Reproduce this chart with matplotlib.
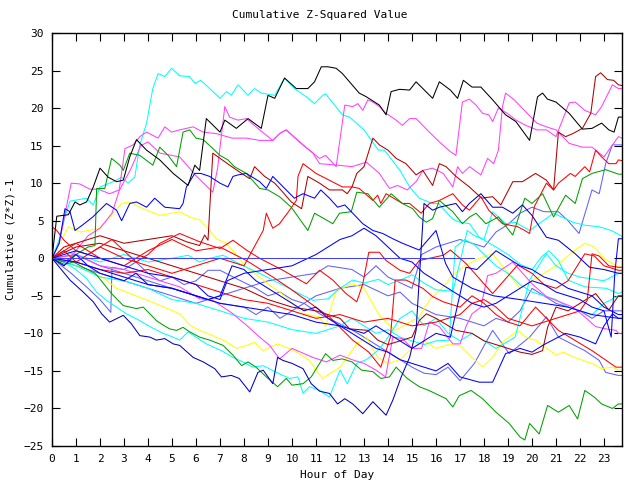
import matplotlib
matplotlib.use("Agg")
import matplotlib.pyplot as plt

# ---- data: (hour, value) key points ----
black_h = [0, 0.2, 0.68, 0.96, 1.16, 1.44, 1.72, 2.0, 2.34, 2.69, 2.97, 3.24, 3.52, 3.94, 4.49, 5.05, 5.67, 5.95, 6.15, 6.43, 7.0, 7.2, 7.68, 8.17, 8.72, 9.0, 9.28, 9.69, 10.18, 10.66, 10.94, 11.22, 11.5, 11.84, 12.1, 12.8, 13.1, 13.64, 13.92, 14.13, 14.48, 14.9, 15.17, 15.86, 16.14, 16.6, 16.9, 17.14, 17.5, 17.87, 18.36, 18.9, 19.33, 19.9, 20.23, 20.44, 20.64, 21.0, 21.55, 22.1, 22.5, 22.9, 23.2, 23.42, 23.6, 23.75]
black_v = [0, 5.6, 5.8, 7.5, 7.1, 7.5, 9.5, 12.0, 10.8, 10.2, 10.4, 13.5, 15.8, 14.4, 13.1, 11.3, 9.7, 12.4, 11.7, 18.6, 16.8, 18.4, 17.3, 18.6, 17.3, 21.7, 21.3, 24.0, 22.6, 22.6, 23.5, 25.5, 25.5, 25.3, 24.6, 22.0, 21.5, 20.4, 19.1, 22.2, 22.5, 22.4, 23.5, 21.3, 23.5, 22.4, 21.3, 23.7, 22.8, 22.8, 21.1, 19.1, 18.2, 15.7, 21.5, 22.0, 21.2, 20.8, 19.3, 17.2, 17.3, 18.0, 17.1, 16.8, 18.8, 18.8]

cyan_top_h = [0, 0.3, 0.54, 0.75, 1.44, 1.72, 2.0, 2.55, 2.9, 3.17, 3.45, 3.66, 3.94, 4.2, 4.42, 4.7, 4.98, 5.32, 5.74, 5.95, 6.2, 6.57, 7.0, 7.27, 7.47, 7.75, 8.17, 8.44, 8.72, 9.28, 9.69, 10.1, 10.6, 10.94, 11.28, 11.4, 12.1, 12.4, 13.0, 13.4, 13.6, 13.85, 14.5, 14.9, 15.3, 15.86, 16.1, 16.7, 17.0, 17.4, 17.8, 18.5, 19.0, 19.5, 20.0, 20.4, 20.7, 21.1, 21.5, 22.2, 23.1, 23.6, 23.75]
cyan_top_v = [0, 2.5, 5.5, 7.6, 8.0, 7.1, 9.5, 10.2, 10.8, 10.0, 10.8, 15.1, 18.0, 22.6, 24.6, 24.2, 25.3, 24.3, 24.2, 23.3, 23.7, 22.6, 21.3, 22.2, 21.7, 23.1, 21.7, 22.6, 22.0, 21.7, 24.0, 22.6, 21.5, 20.6, 21.7, 21.9, 19.1, 18.8, 17.1, 15.3, 14.4, 14.4, 11.7, 9.5, 8.0, 7.3, 7.3, 5.2, 4.8, 4.6, 2.8, 1.5, 0.5, -0.8, -1.5, 0.2, 1.0, -0.3, -2.9, -3.8, -4.0, -4.7, -4.5]

magenta_a_h = [0, 0.3, 0.8, 1.16, 1.58, 1.93, 2.4, 2.8, 3.04, 3.38, 3.66, 3.94, 4.42, 4.7, 4.98, 5.32, 5.88, 6.3, 6.85, 7.5, 8.1, 8.65, 9.2, 9.48, 9.76, 10.5, 11.15, 11.4, 11.84, 12.2, 12.53, 12.74, 12.95, 13.16, 13.37, 13.64, 13.92, 14.34, 14.6, 14.9, 15.17, 15.72, 16.14, 16.6, 16.83, 17.1, 17.39, 17.67, 17.94, 18.2, 18.36, 18.6, 18.97, 19.33, 19.74, 20.2, 20.6, 21.0, 21.55, 21.8, 22.2, 22.65, 22.9, 23.35, 23.6, 23.75]
magenta_a_v = [0, 2, 10, 9.9, 9.2, 9.2, 8.6, 9.1, 14.6, 15.1, 16.2, 16.8, 16.0, 17.5, 16.8, 17.1, 17.5, 16.8, 16.6, 16.0, 16.0, 15.7, 15.7, 16.6, 17.1, 15.0, 13.3, 13.7, 12.2, 20.4, 20.2, 20.6, 19.7, 21.1, 20.8, 20.2, 19.3, 18.4, 17.7, 18.6, 18.6, 16.8, 15.5, 14.2, 13.7, 20.8, 21.2, 20.4, 19.3, 19.1, 18.2, 20.0, 19.3, 18.4, 17.7, 17.1, 17.1, 16.2, 20.7, 20.8, 19.7, 19.1, 20.2, 23.1, 22.6, 22.6]

magenta_b_h = [0, 0.5, 1, 1.5, 2, 2.5, 2.8, 3.3, 3.7, 4.0, 4.5, 5.32, 6.0, 6.7, 6.9, 7.2, 7.4, 7.75, 8.1, 8.65, 9.2, 9.48, 9.76, 10.3, 10.87, 11.15, 11.9, 12.5, 13.1, 13.64, 14.06, 14.4, 14.8, 15.17, 15.45, 15.86, 16.3, 16.7, 16.9, 17.1, 17.4, 17.87, 18.15, 18.4, 18.6, 18.77, 18.9, 19.26, 19.74, 20.2, 20.6, 21.0, 21.55, 22.1, 22.5, 23.0, 23.6, 23.75]
magenta_b_v = [0, -1, 1, 3, 4, 6, 9, 12, 15, 15.5, 14, 13.5, 11, 8.8, 12, 20.2, 18.8, 18.4, 18.6, 17.1, 15.7, 16.6, 17.1, 15.5, 14, 12.6, 12.4, 12.2, 12.8, 11.3, 9.3, 9.7, 9.1, 10.2, 11.7, 12, 11.3, 9.5, 12.2, 11.3, 12.2, 11.1, 13.3, 12.6, 14.4, 20.2, 22, 21.1, 19.5, 18, 17.5, 17.1, 15.3, 14.8, 14.8, 13.5, 16.2, 16]

green_top_h = [0, 0.5, 1.0, 1.5, 1.79, 1.86, 2.2, 2.48, 2.83, 2.97, 3.24, 3.66, 4.2, 4.49, 4.84, 5.19, 5.46, 5.74, 6.0, 6.3, 6.64, 7.0, 7.33, 7.6, 8.1, 8.65, 9.0, 9.48, 9.97, 10.66, 10.94, 11.43, 11.7, 11.98, 12.47, 12.7, 13.16, 13.64, 14.13, 14.6, 15.03, 15.3, 15.6, 15.86, 16.14, 16.7, 17.1, 17.4, 17.67, 18.08, 18.6, 19.2, 19.7, 20.0, 20.44, 20.9, 21.4, 21.8, 22.1, 22.5, 23.07, 23.6, 23.75]
green_top_v = [0, -0.5, 0.5, 1.5, 1.7, 9.3, 9.3, 13.3, 12.4, 11.7, 14, 13.7, 12.4, 14.8, 13.7, 12.2, 16.8, 17.1, 16, 15.8, 14.8, 13.7, 13.1, 12.2, 11.3, 9.3, 9.1, 8.2, 6.8, 3.7, 6, 5.1, 4.6, 6, 6.2, 8.8, 8.6, 6.8, 8.6, 7.3, 6.6, 5.5, 4.8, 5.3, 7.7, 6.2, 4.6, 5.5, 6, 4.6, 5.5, 3.1, 8, 7.3, 8.6, 5.5, 8.4, 7.3, 10.6, 11.3, 11.8, 11.2, 11.2]

darkred_top_h = [0, 0.5, 1, 2, 3, 4, 5, 5.6, 6.15, 6.36, 6.5, 6.7, 7.4, 7.9, 8.24, 8.44, 8.86, 9.28, 9.62, 9.97, 10.4, 10.66, 11.15, 11.56, 12.1, 12.3, 12.5, 12.7, 13.0, 13.37, 13.64, 14.0, 14.34, 14.75, 15.17, 15.45, 15.86, 16.14, 16.42, 16.83, 17.39, 17.9, 18.36, 18.7, 19.2, 19.6, 20.15, 20.6, 20.9, 21.1, 21.4, 21.7, 22.1, 22.45, 22.65, 22.86, 23.14, 23.4, 23.6, 23.75]
darkred_top_v = [0, 1.5, 2, 3, 2, 2.5, 3, 2.2, 1.7, 3.1, 2.4, 14, 12.4, 11.3, 10.6, 12.2, 10.9, 10, 8.8, 7.5, 6.6, 10.9, 10, 9.1, 9.1, 8.6, 9.5, 11.3, 12.2, 16, 15.1, 14.4, 13.3, 12.6, 11.1, 11.7, 9.7, 12.6, 12.2, 10.9, 9.5, 8, 8.2, 7.1, 10.2, 10.2, 11.3, 10.4, 9.1, 16.8, 16.2, 16.6, 17.3, 19.3, 24.2, 24.7, 23.8, 23.7, 23.1, 23]

red_top_h = [0, 0.5, 1, 2, 3, 4, 5, 6, 7, 8, 8.8, 8.93, 9.2, 9.48, 9.9, 10.18, 10.25, 10.46, 11.0, 11.43, 12.1, 12.5, 12.8, 13.37, 13.57, 13.7, 13.92, 14.6, 14.9, 15.38, 15.72, 16.14, 16.7, 17.1, 17.39, 17.87, 18.2, 18.77, 19.4, 19.7, 19.9, 20.1, 20.6, 20.9, 21.1, 21.6, 21.8, 22.2, 22.4, 22.65, 22.9, 23.2, 23.5, 23.6, 23.75]
red_top_v = [0, 1, -0.5, 1.5, 0, -1, -2, -1, 0, -1, 3.7, 6, 4, 4.6, 6.4, 7.7, 10.9, 12.6, 11.3, 10.6, 9.5, 9.5, 9.3, 7.7, 8.4, 7.3, 8.6, 7.3, 7.3, 6, 7.3, 7.7, 8.6, 7.1, 6.4, 8.2, 6.4, 4.6, 4.2, 3.7, 3.3, 6.9, 10, 9.1, 10, 11.3, 10.9, 12.2, 11.5, 14.4, 13.5, 12.6, 12.6, 13.1, 13]

blue_high_h = [0, 0.3, 0.54, 0.75, 0.96, 1.3, 1.7, 2.27, 2.69, 2.9, 3.24, 3.52, 3.94, 4.28, 4.7, 5.32, 5.46, 5.6, 5.95, 6.2, 6.57, 7.0, 7.33, 7.54, 7.75, 8.1, 8.65, 8.93, 9.2, 9.48, 9.76, 10.1, 10.46, 10.94, 11.2, 11.56, 11.9, 12.2, 12.95, 13.37, 13.78, 14.2, 14.6, 15.3, 16.0, 16.4, 16.7, 17.5, 18.4, 19.5, 20.5, 21.5, 22.5, 23.6, 23.75]
blue_high_v = [0, 2, 6.6, 6.2, 3.7, 4.5, 5.5, 7.3, 6.4, 5, 7.3, 7.5, 6.8, 8, 6.8, 6.6, 7.3, 9.5, 11.3, 11.3, 10.9, 10, 9.5, 10.9, 11.1, 11.3, 10.2, 9.3, 10.9, 10, 9.1, 8, 8.6, 8, 9.1, 8, 6.8, 7.1, 4.6, 3.7, 3.3, 2.6, 2, 1.1, 3.7, -0.7, -2.5, -4, -5, -5.5, -6, -6.5, -7.5, -8, -8]

dblue_low_h = [0, 0.75, 1.3, 1.72, 2.07, 2.4, 2.97, 3.3, 3.66, 4.08, 4.35, 4.7, 5.05, 5.32, 5.88, 6.3, 6.78, 7.06, 7.47, 7.8, 8.24, 8.58, 8.8, 9.2, 9.4, 9.62, 10.0, 10.46, 10.8, 11.15, 11.56, 11.9, 12.2, 12.53, 12.95, 13.37, 13.92, 14.2, 14.55, 14.9, 15.17, 15.5, 15.86, 16.14, 16.83, 17.1, 17.39, 17.87, 18.36, 18.77, 19.2, 19.6, 20.0, 20.6, 21.1, 21.8, 22.4, 23.0, 23.6, 23.75]
dblue_low_v = [0, -2.9, -4.5, -5.8, -7.4, -8.5, -7.6, -8.7, -10.3, -10.5, -10.9, -10.7, -11.4, -11.6, -13.2, -13.8, -14.7, -15.8, -15.6, -16, -17.8, -15.2, -14.9, -16.7, -13.2, -13.6, -14, -14.7, -16.7, -17.7, -18, -19.4, -18.7, -19.4, -20.7, -19.1, -20.9, -18.9, -15.8, -13.2, -9.6, 7.3, 6.4, 6.8, 7.3, 6.2, 7.3, 8.6, 6.8, 6.8, 6, 7.1, 5.7, 2.8, 2.4, 0.6, -1.2, -1.5, -2, -2]

green_low_h = [0, 0.5, 0.9, 1.3, 1.79, 1.93, 2.48, 2.97, 3.52, 3.8, 4.08, 4.35, 4.63, 4.9, 5.19, 5.46, 5.74, 6.15, 6.57, 7.13, 7.54, 7.9, 8.17, 8.5, 8.93, 9.4, 9.76, 10.0, 10.46, 10.8, 11.15, 11.4, 11.7, 12.1, 12.5, 12.9, 13.37, 13.7, 14.06, 14.34, 14.8, 15.3, 15.7, 16.42, 16.7, 16.97, 17.46, 17.94, 18.5, 19.05, 19.5, 19.7, 19.9, 20.3, 20.65, 21.1, 21.55, 21.9, 22.2, 22.6, 22.9, 23.35, 23.6, 23.75]
green_low_v = [0, -0.8, -0.5, -1.2, -2, -2.5, -4.7, -6.3, -6.7, -6.5, -7.4, -8.3, -8.9, -9.4, -9.6, -9.2, -9.8, -10.5, -10.9, -11.6, -12.9, -14.3, -13.8, -14.5, -15.8, -17.1, -16, -16.9, -16.7, -15.8, -14, -12.7, -13.6, -13.4, -13.8, -14.9, -15.1, -16, -15.8, -14.5, -16, -17.1, -17.6, -18.7, -19.8, -18.3, -17.6, -18.7, -20.5, -22, -23.8, -24.2, -22, -23.4, -19.6, -20.5, -19.6, -21.4, -17.6, -18.5, -19.4, -20, -19.4, -19.4]

cyan_low_h = [0, 0.5, 1.0, 1.44, 1.86, 2.27, 2.69, 3.1, 3.6, 4.08, 4.63, 5.05, 5.32, 5.67, 6.0, 6.43, 7.06, 7.54, 7.96, 8.37, 8.8, 9.48, 9.9, 10.25, 10.46, 10.73, 11.15, 11.56, 12.0, 12.3, 12.7, 13.1, 13.57, 13.92, 14.5, 15.0, 15.5, 16.0, 16.5, 17.0, 17.5, 18.0, 18.5, 19.3, 19.9, 20.6, 21.0, 21.5, 22.0, 23.0, 23.6, 23.75]
cyan_low_v = [0, -0.5, -1.5, -2.7, -4.5, -5.6, -6.5, -7.4, -8.2, -9.1, -10, -10.5, -10.9, -9.8, -10.5, -11.4, -12.3, -13.2, -13.8, -14.5, -14.3, -15.4, -16, -15.8, -18, -17.1, -17.6, -18.5, -14.9, -16.7, -14, -13.5, -12.3, -10.9, -8, -7, -9, -8, -10, -11, -10, -11, -12, -10.5, -2.9, 0.6, -1, -2, -2.5, -3, -2, -2]

yellow_low_h = [0, 1, 2.1, 2.69, 3.5, 4.3, 5.32, 5.74, 6.15, 6.7, 7.2, 7.68, 8.1, 8.44, 8.8, 9.4, 10.1, 10.73, 11.0, 11.28, 11.56, 12.0, 12.7, 13.1, 13.57, 14.0, 14.5, 15.0, 15.5, 16.0, 16.5, 17.0, 17.5, 17.94, 18.36, 18.77, 19.4, 19.74, 20.15, 21.0, 21.3, 21.76, 22.5, 22.9, 23.35, 23.6, 23.75]
yellow_low_v = [0, -1, -2.5, -4, -5, -6, -7.4, -8.9, -9.6, -10.3, -11, -12, -11.6, -11.2, -12.3, -11.4, -12.3, -13.6, -14.9, -16, -15.4, -14.5, -11.4, -10.5, -13.2, -14, -13.5, -12, -11, -12, -11.5, -11.6, -13.2, -14.5, -13.2, -11.2, -9.6, -10.5, -10.9, -12.9, -12.5, -13.2, -14, -14.7, -14.5, -14.9, -14.9]

magenta_mid_h = [0, 1, 2, 3, 4, 5.32, 6.15, 6.7, 7.13, 7.54, 8.1, 8.65, 9.07, 9.48, 10.0, 10.87, 11.43, 12.0, 12.5, 13.0, 13.5, 13.9, 14.2, 14.6, 15.0, 15.4, 15.72, 16.14, 16.7, 17.0, 17.25, 17.5, 17.87, 18.15, 18.5, 19.2, 19.5, 20.0, 20.6, 21.7, 22.2, 22.65, 23.07, 23.5, 23.6, 23.75]
magenta_mid_v = [0, 0.5, -1, -1.5, -2.5, -3.8, -5.4, -5.6, -6.5, -7.4, -8.9, -10.5, -11.6, -13.4, -12, -13.2, -13.8, -12.9, -13.5, -14, -14.9, -15.8, -10.5, -10.7, -12, -12, -8.5, -9.1, -11.4, -11.4, -9.1, -7.4, -6.5, -2.3, -2, -0.5, -1.6, -3.4, -5.1, -6.5, -7.8, -9.1, -9.4, -9.6, -10, -10]

cyan_mid_h = [0, 0.5, 1, 2, 3, 4, 5, 5.67, 6.15, 6.57, 7.13, 7.54, 8.1, 8.65, 9.2, 9.76, 10.3, 10.87, 11.5, 12.0, 12.53, 13.0, 13.6, 14.0, 14.6, 15.0, 15.5, 16.0, 16.7, 17.0, 17.3, 17.6, 18.0, 18.36, 18.9, 19.3, 19.9, 20.9, 21.7, 22.2, 22.8, 23.3, 23.6, 23.75]
cyan_mid_v = [0, 1, 0.5, -0.5, 0.5, -0.5, 0, 0.4, -0.5, 0, 0.4, -0.3, -1.2, -2, -2.9, -3.8, -4.7, -5.6, -5.4, -4, -2.9, -3.3, -2.8, -3.5, -2.8, -2.2, -3.3, -4.2, -4.4, -0.5, 3.7, 3, 2.5, 6.2, 4.6, 4.8, 3.7, 6.0, 4.8, 4.4, 4.2, 3.7, 3.2, 2.9]

cyan_x_h = [0, 1, 2, 3, 4, 5, 6, 7, 8, 9, 10, 11, 12, 12.5, 13, 13.5, 14, 14.5, 15, 15.5, 16, 16.55, 16.8, 17.2, 17.6, 18, 18.5, 19, 19.5, 20, 20.5, 21, 21.5, 22, 22.5, 23, 23.6, 23.75]
cyan_x_v = [0, -1, -2.5, -3, -4, -5.5, -6, -7, -8, -8.5, -9.5, -10, -9, -8, -9, -10, -9.5, -10.5, -11, -11.5, -11, -10.9, 1.5, 2.5, 1.8, 0.5, -1, -2, -3.5, -4.5, -5, -5.5, -6.5, -7, -7.5, -6, -5, -5]

yellow_mid_h = [0, 0.68, 1.2, 2, 2.9, 3.24, 3.66, 4.49, 5.32, 5.74, 6.15, 6.57, 6.85, 7.27, 8.1, 8.65, 9.07, 9.48, 9.9, 10.46, 11.15, 11.4, 11.84, 12.53, 13.0, 13.64, 14.3, 14.9, 15.3, 15.72, 16.42, 16.6, 17.2, 17.8, 18.36, 19.0, 19.5, 20.0, 20.5, 21.0, 21.8, 22.2, 22.6, 23.0, 23.6, 23.75]
yellow_mid_v = [0, 4.2, 3.5, 4, 7.3, 7.5, 6.8, 5.7, 6.2, 5.5, 5.1, 3.7, 2.6, 2, -1.2, -2.5, -3.6, -4.5, -5.6, -7.4, -7.8, -9.1, -4.3, -3.4, -4, -7.6, -9.6, -8.5, -7.8, -5.6, -3.4, -2.5, -1, 0, 0.6, -2, -4, -3, -2, -1, 1.1, 2, 1.5, 0, -1.2, -1.2]

red_mid1_h = [0, 0.2, 0.5, 1, 1.5, 2, 2.5, 3, 3.5, 4, 4.5, 5.32, 6.15, 7.0, 7.54, 8.1, 8.65, 9.62, 10.6, 11.15, 11.7, 12.25, 12.7, 12.95, 13.2, 13.64, 13.92, 14.5, 14.9, 15.3, 16.3, 16.6, 17.25, 18.36, 19.4, 20.0, 20.5, 21.0, 21.5, 22.2, 22.6, 23.0, 23.6, 23.75]
red_mid1_v = [4.2, 3.7, 2.4, 1, 0.5, 1.5, 2.5, 1, -0.5, 0.5, 2, 3.3, 2.2, 1.3, 2.4, 1.1, 0, -1.6, -3.4, -1.6, -2.9, -4.7, -5.8, -3.4, 0.8, 0.8, -0.3, -1.6, -2, -0.3, 0.4, 1.1, -0.7, -4.7, -0.9, -2, -3.5, -4, -3, 0.6, 0.3, -1, -1.6, -1.6]

red_mid2_h = [0, 0.5, 1, 1.5, 2, 3, 4, 5, 5.32, 6, 7, 8.1, 9.2, 9.9, 10.6, 11.15, 11.56, 12.53, 13.2, 13.7, 14.1, 14.3, 14.48, 14.75, 15.45, 15.86, 16.3, 17.0, 17.5, 18.0, 18.5, 19.0, 19.5, 20.15, 21.1, 22.5, 23.5, 23.75]
red_mid2_v = [0, 1, 2, 1, 0, -1, 1, 2.5, 2, 1, 1.5, -0.3, -2.5, -4, -5.6, -6.9, -7.8, -10.9, -12.5, -14.5, -10.5, -2.9, -2.9, -2.9, -4, -5.1, -5.8, -6.5, -5, -6, -7.5, -8.5, -9, -6.5, -9.6, -12.3, -14.5, -14.5]

red_x_h = [0, 1, 2, 3, 4, 5, 6, 7, 8, 9, 10, 11, 12, 13, 14, 15, 16, 17, 17.5, 18, 18.5, 19, 20, 20.5, 21, 21.5, 22, 22.3, 22.5, 22.8, 23.2, 23.6, 23.75]
red_x_v = [0, -0.5, -1.5, -2, -1.5, -2.5, -3.5, -4.5, -5.5, -6, -7, -8, -7.5, -8.5, -8, -9, -8.5, -7.5, -6, -5.5, -6.5, -8, -9, -8.5, -8, -7.5, -7, -5.6, 0.6, 0.3, -1, -1.2, -1.2]

darkred_mid_h = [0, 1, 2, 3, 4, 5, 6, 7, 8, 9, 10, 11, 12, 12.4, 13.16, 13.57, 14.0, 14.5, 15.0, 15.3, 15.6, 16.0, 16.83, 17.5, 18.0, 18.5, 19.0, 19.5, 20.0, 20.44, 20.65, 21.0, 21.5, 22.0, 22.65, 23.2, 23.6, 23.75]
darkred_mid_v = [0, 1.5, 2, 1, 0, -1, -2, -3, -4, -5.5, -6.5, -7, -8, -9.4, -9.6, -10.9, -11.5, -11, -10.5, -8.3, -7.4, -8, -9.6, -10, -11, -11.5, -12, -12.5, -12.8, -12.3, -9.2, -6.5, -7, -6, -4.7, -6.9, -5, -5]

lblue1_h = [0, 1, 2, 3, 4, 5, 6, 7, 8, 9, 10, 11, 11.5, 12.5, 13, 13.5, 14, 15, 15.4, 16, 17, 18, 18.5, 19, 19.5, 20, 20.5, 21.1, 21.5, 21.96, 22.5, 22.8, 23.07, 23.35, 23.6, 23.75]
lblue1_v = [0, -1, -2, -3, -4, -5, -6, -5, -4, -3, -2.5, -2, -1, -1.5, -2.5, -1, -2.5, -4, 0.5, 1.5, 2.5, 1.5, 3.5, 4.5, 6, 6.8, 6.2, 6.2, 5, 3.3, 9.1, 8.6, 12.6, 15.1, 15.1, 15.1]

lblue2_h = [0, 0.8, 1.5, 2.0, 2.45, 2.5, 3, 3.5, 4, 4.5, 5, 5.5, 6, 6.5, 7, 7.8, 8.5, 9, 9.5, 10, 10.5, 11.15, 12.53, 13, 13.5, 14, 14.5, 15, 15.5, 16, 16.5, 17, 17.6, 18.08, 18.36, 19.05, 19.9, 20.6, 21.1, 22.2, 22.8, 23.07, 23.6, 23.75]
lblue2_v = [0, -2, -4, -5.5, -7.2, -1.2, -1.5, -0.5, -2, -3, -2.5, -3.5, -3, -1.6, -1.6, -2.9, -4, -5, -4.5, -5.5, -6, -7.4, -9.6, -10.5, -11.5, -12.5, -13.5, -14.5, -15.3, -15.5, -14.5, -16.3, -14, -11.2, -9.6, -12.7, -10.5, -7.8, -10.5, -12.3, -13.6, -15.2, -15.6, -15.6]

lblue3_h = [0, 1, 2, 3, 4, 5, 6, 7, 8, 8.5, 9, 9.5, 10, 10.5, 11, 12, 13, 14, 14.5, 15, 16, 17, 18, 18.5, 19, 19.5, 20, 20.5, 21, 22, 22.5, 23, 23.6, 23.75]
lblue3_v = [0, 0.5, -1, -2, -3, -4, -5, -6, -6.5, -7.5, -6.5, -8, -7, -6, -5, -4, -3.5, -5, -4.5, -6, -7.5, -8, -9, -8, -8.5, -7, -4, -5, -6, -7, -8, -7, -7, -7]

blue_mid1_h = [0, 0.5, 1, 1.5, 2, 3, 3.5, 4, 5, 5.5, 6, 6.5, 7, 7.5, 8, 8.5, 9, 9.5, 10, 10.5, 11, 11.5, 12, 12.5, 13, 13.5, 14, 14.5, 15, 15.5, 16, 16.5, 17, 17.8, 18.36, 18.9, 19.5, 20, 20.5, 21.4, 22, 22.65, 23, 23.35, 23.6, 23.75]
blue_mid1_v = [0, -1, 0.5, -1, -2, -3, -2, -3.5, -4, -4.5, -5, -5.5, -5, -1, -1.5, -3, -4, -5, -6, -7, -6.5, -8, -9, -10, -11, -12, -12.5, -13.5, -14, -14.5, -15, -14, -15.8, -16.5, -16.5, -12.7, -12, -12.5, -11.5, -10, -10.5, -11.4, -9, -7.4, -8, -8]

blue_mid2_h = [0, 1, 2, 3, 4, 5, 6, 6.5, 7, 7.3, 8, 9, 10, 11, 11.5, 12, 12.5, 13, 13.5, 14, 14.5, 15, 15.5, 16, 16.5, 17, 17.5, 18, 18.5, 19, 19.5, 20, 20.5, 21, 21.5, 22, 22.5, 23, 23.3, 23.45, 23.6, 23.75]
blue_mid2_v = [0, 1, 0, -1, -2, -2.5, -3.5, -5, -5.5, -3, -2, -1.5, -1, 0.5, 1.5, 2.5, 3, 4, 3, 1.5, 0, -0.5, -2, -3, -4, -5, -6, -6.5, -6, -5, -4, -3, -3.5, -4.5, -5, -5.5, -6.5, -7, -10.5, -2, 2.6, 2.6]

blue_x_h = [0, 1, 2, 3, 4, 5, 6, 7, 8, 9, 10, 11, 12, 12.5, 13, 13.5, 14, 14.5, 15, 15.5, 16, 16.6, 17.25, 17.7, 18.5, 19, 19.5, 20, 20.5, 21, 21.5, 22, 22.5, 23, 23.6, 23.75]
blue_x_v = [0, -0.5, -1.5, -2.5, -3.5, -4, -5, -6, -6.5, -7, -7.5, -8.5, -9, -9.5, -10, -9, -10, -11, -12, -11, -10, -10.5, -1.2, -1.5, 1.0, 0, -1, -1.5, -2.5, -3, -4, -4.5, -5, -6.5, -7.5, -7.5]

zero_h = [0, 17.6]
zero_v = [0, 0]

C_RED = "#ff0000"
C_GREEN = "#00a000"
C_BLUE = "#0000ff"
C_DBLUE = "#0000c0"
C_MAG = "#ff40ff"
C_CYAN = "#00ffff"
C_YEL = "#ffff00"
C_DRED = "#b00000"
C_LBLUE = "#6060ff"
C_BLACK = "#000000"

series = [
    (lblue3_h, lblue3_v, C_LBLUE),
    (lblue2_h, lblue2_v, C_LBLUE),
    (lblue1_h, lblue1_v, C_LBLUE),
    (yellow_mid_h, yellow_mid_v, C_YEL),
    (yellow_low_h, yellow_low_v, C_YEL),
    (cyan_x_h, cyan_x_v, C_CYAN),
    (cyan_mid_h, cyan_mid_v, C_CYAN),
    (cyan_low_h, cyan_low_v, C_CYAN),
    (cyan_top_h, cyan_top_v, C_CYAN),
    (magenta_mid_h, magenta_mid_v, C_MAG),
    (magenta_b_h, magenta_b_v, C_MAG),
    (magenta_a_h, magenta_a_v, C_MAG),
    (darkred_mid_h, darkred_mid_v, C_DRED),
    (darkred_top_h, darkred_top_v, C_DRED),
    (red_x_h, red_x_v, C_RED),
    (red_mid1_h, red_mid1_v, C_RED),
    (red_mid2_h, red_mid2_v, C_RED),
    (red_top_h, red_top_v, C_RED),
    (green_low_h, green_low_v, C_GREEN),
    (green_top_h, green_top_v, C_GREEN),
    (blue_x_h, blue_x_v, C_BLUE),
    (blue_mid1_h, blue_mid1_v, C_BLUE),
    (blue_mid2_h, blue_mid2_v, C_BLUE),
    (blue_high_h, blue_high_v, C_BLUE),
    (dblue_low_h, dblue_low_v, C_DBLUE),
    (zero_h, zero_v, "#4040ff"),
    (black_h, black_v, C_BLACK),
]

x_ticks = list(range(0, 24))
y_ticks = list(range(-25, 31, 5))

FONT = "DejaVu Sans Mono"
plt.rcParams["font.family"] = FONT

fig = plt.figure(figsize=(6.4, 4.8), dpi=100)
ax = fig.add_axes([52 / 640, 1 - 446 / 480, 570 / 640, 413 / 480])

for h, v, c in series:
    ax.plot(h, v, color=c, linewidth=0.75)

ax.set_xlim(0, 23.75)
ax.set_ylim(-25, 30)
ax.set_xticks(x_ticks)
ax.set_yticks(y_ticks)
ax.tick_params(axis="both", which="both", direction="in", length=6, width=0.8,
               top=True, right=True, labelsize=8, pad=6)
for s in ax.spines.values():
    s.set_linewidth(1.0)

fig.text(0.5, 1 - 15 / 480, "Cumulative Z-Squared Value", ha="center", va="center", fontsize=8)
ax.set_xlabel("Hour of Day", fontsize=8, labelpad=4)
ax.set_ylabel("Cumulative (Z*Z)-1", fontsize=8, labelpad=6)

fig.savefig("out.png", dpi=100)
